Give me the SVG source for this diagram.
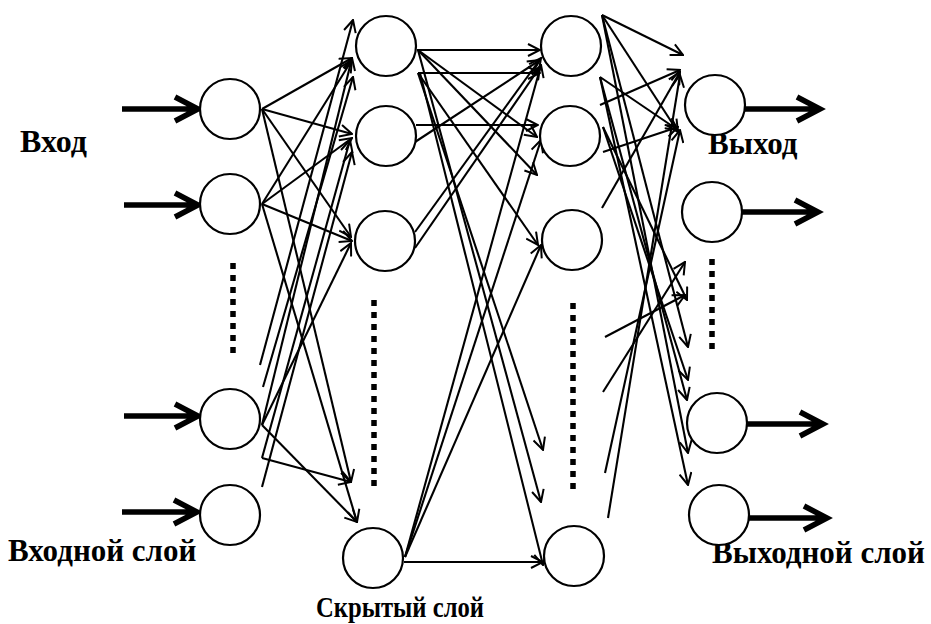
<svg xmlns="http://www.w3.org/2000/svg" width="931" height="624" viewBox="0 0 931 624">
  <style>
    .lbl { font-family: "Liberation Serif", "Times New Roman", serif; font-weight: bold; fill: #000; }
    .node { fill: #fff; stroke: #000; stroke-width: 2.2; }
    .c { fill: none; stroke: #000; stroke-width: 2.1; marker-end: url(#tip); }
    .io { fill: none; stroke: #000; stroke-width: 5.5; }
    .dots { stroke: #000; stroke-width: 5.5; stroke-dasharray: 6 6; }
  </style>
  <defs>
    <marker id="tip" markerUnits="userSpaceOnUse" viewBox="0 0 14 14" refX="13" refY="7" markerWidth="14" markerHeight="14" orient="auto">
      <path d="M1,1 L13,7 L1,13" fill="none" stroke="#000" stroke-width="2"/>
    </marker>
  </defs>

  <!-- labels -->
  <g id="labels">
    <text class="lbl" x="20" y="152" font-size="32">Вход</text>
    <text class="lbl" x="708" y="154" font-size="31">Выход</text>
    <text class="lbl" x="8" y="561" font-size="31">Входной слой</text>
    <text class="lbl" x="712" y="563" font-size="31">Выходной слой</text>
    <text class="lbl" x="316" y="617" font-size="29" textLength="168" lengthAdjust="spacingAndGlyphs">Скрытый слой</text>
  </g>

  <!-- weighted links between layers -->
  <g id="connectors">
    <!-- input -> hidden 1 -->
    <path class="c" d="M262,109 L352,58"/>
    <path class="c" d="M262,109 L352,134"/>
    <path class="c" d="M262,109 L351,237"/>
    <path class="c" d="M262,109 L351,482"/>
    <path class="c" d="M262,204 L357,522"/>
    <path class="c" d="M262,204 L352,60"/>
    <path class="c" d="M262,204 L352,138"/>
    <path class="c" d="M262,204 L352,241"/>
    <path class="c" d="M260,365 L353,20"/>
    <path class="c" d="M263,387 L353,77"/>
    <path class="c" d="M262,425 L352,58"/>
    <path class="c" d="M262,458 L350,140"/>
    <path class="c" d="M262,487 L352,152"/>
    <path class="c" d="M262,425 L351,243"/>
    <path class="c" d="M262,425 L357,522"/>
    <path class="c" d="M262,458 L351,482"/>

    <!-- hidden 1 -> hidden 2 -->
    <path class="c" d="M417,50 L540,50"/>
    <path class="c" d="M418,73 L540,73"/>
    <path class="c" d="M416,125 L538,125"/>
    <path class="c" d="M418,50 L537,137"/>
    <path class="c" d="M418,50 L537,175"/>
    <path class="c" d="M418,73 L538,245"/>
    <path class="c" d="M418,73 L543,450"/>
    <path class="c" d="M418,50 L541,502"/>
    <path class="c" d="M420,73 L543,565"/>
    <path class="c" d="M415,232 L541,58"/>
    <path class="c" d="M415,248 L540,67"/>
    <path class="c" d="M415,142 L540,60"/>
    <path class="c" d="M405,557 L541,65"/>
    <path class="c" d="M405,557 L541,140"/>
    <path class="c" d="M405,557 L541,245"/>
    <path class="c" d="M404,562 L543,562"/>

    <!-- hidden 2 -> output -->
    <path class="c" d="M602,15 L683,55"/>
    <path class="c" d="M602,15 L678,132"/>
    <path class="c" d="M602,15 L688,347"/>
    <path class="c" d="M602,15 L688,453"/>
    <path class="c" d="M600,77 L687,400"/>
    <path class="c" d="M600,77 L688,485"/>
    <path class="c" d="M600,77 L678,130"/>
    <path class="c" d="M600,105 L680,70"/>
    <path class="c" d="M603,152 L678,127"/>
    <path class="c" d="M603,127 L688,380"/>
    <path class="c" d="M603,127 L687,300"/>
    <path class="c" d="M602,208 L680,72"/>
    <path class="c" d="M605,337 L685,295"/>
    <path class="c" d="M603,392 L685,262"/>
    <path class="c" d="M605,473 L680,130"/>
    <path class="c" d="M608,518 L680,75"/>
  </g>

  <!-- layer continuation marks -->
  <g id="ellipsis">
    <line class="dots" x1="233" y1="263" x2="233" y2="353"/>
    <line class="dots" x1="374" y1="300" x2="374" y2="490"/>
    <line class="dots" x1="573" y1="303" x2="573" y2="493"/>
    <line class="dots" x1="712" y1="259" x2="712" y2="351"/>
  </g>

  <!-- input signals -->
  <g id="inputs">
    <path class="io" d="M122,109 H196 M175,97 L198,109 L175,121"/>
    <path class="io" d="M124,205 H196 M175,193 L198,205 L175,217"/>
    <path class="io" d="M124,416 H196 M175,404 L198,416 L175,428"/>
    <path class="io" d="M122,512 H195 M174,500 L197,512 L174,524"/>
  </g>

  <!-- output signals -->
  <g id="outputs">
    <path class="io" d="M745,109 H818 M797,97 L820,109 L797,121"/>
    <path class="io" d="M742,212 H816 M795,200 L818,212 L795,224"/>
    <path class="io" d="M747,424 H821 M800,412 L823,424 L800,436"/>
    <path class="io" d="M749,518 H825 M804,506 L827,518 L804,530"/>
  </g>

  <!-- input layer -->
  <g id="in1"><circle class="node" cx="230" cy="109" r="30"/></g>
  <g id="in2"><circle class="node" cx="230" cy="204" r="30"/></g>
  <g id="in3"><circle class="node" cx="230" cy="419" r="30"/></g>
  <g id="in4"><circle class="node" cx="230" cy="515" r="30"/></g>

  <!-- hidden layer 1 -->
  <g id="h1"><circle class="node" cx="386" cy="46" r="30"/></g>
  <g id="h2"><circle class="node" cx="386" cy="136" r="30"/></g>
  <g id="h3"><circle class="node" cx="385" cy="241" r="30"/></g>
  <g id="h4"><circle class="node" cx="373" cy="558" r="30"/></g>

  <!-- hidden layer 2 -->
  <g id="g1"><circle class="node" cx="571" cy="46" r="30"/></g>
  <g id="g2"><circle class="node" cx="570" cy="136" r="30"/></g>
  <g id="g3"><circle class="node" cx="572" cy="240" r="30"/></g>
  <g id="g4"><circle class="node" cx="574" cy="556" r="30"/></g>

  <!-- output layer -->
  <g id="out1"><circle class="node" cx="715" cy="105" r="30"/></g>
  <g id="out2"><circle class="node" cx="712" cy="212" r="30"/></g>
  <g id="out3"><circle class="node" cx="717" cy="423" r="30"/></g>
  <g id="out4"><circle class="node" cx="719" cy="515" r="30"/></g>
</svg>
